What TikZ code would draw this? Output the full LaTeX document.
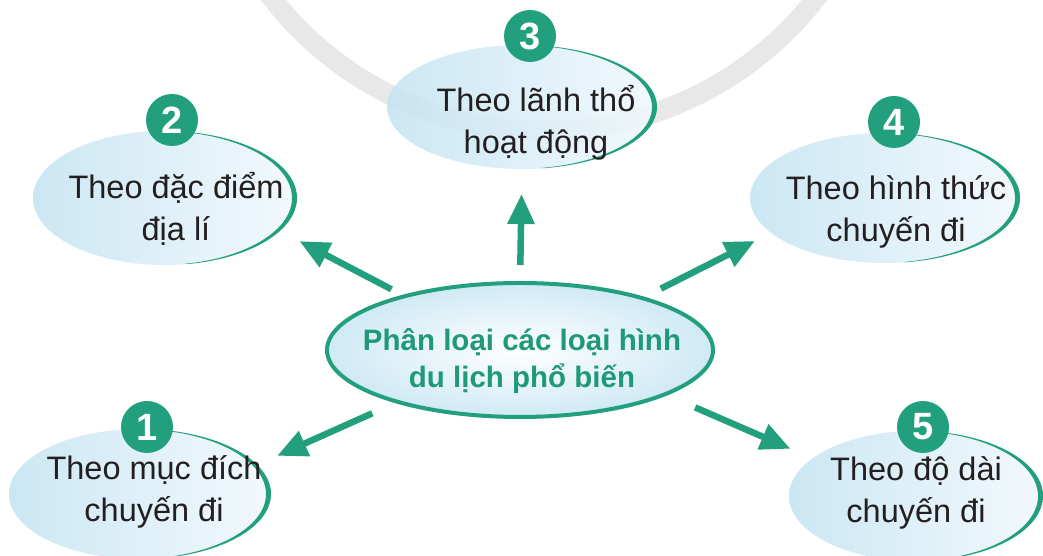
\documentclass[tikz,border=0pt]{standalone}
\usepackage{fontspec}
\setmainfont{Liberation Sans}
\usetikzlibrary{shapes.geometric,arrows.meta,calc}

\definecolor{leafgreen}{HTML}{22A07D}
\definecolor{huetext}{HTML}{1E9A78}
\definecolor{bubbleblue}{HTML}{C4E4F2}
\definecolor{bubblepale}{HTML}{F1F8FC}
\definecolor{inkgray}{HTML}{231F20}
\definecolor{ringgray}{HTML}{E8E8E8}

% green rim on the right half of a bubble
\newcommand{\bubblerim}[3]{%
  \fill[leafgreen] ($(#1)+(85:#2 and #3)$) arc[start angle=85,end angle=-80,x radius=#2,y radius=#3]
    -- ($(#1)+(-5pt,0)+(-80:#2 and #3)$) arc[start angle=-80,end angle=85,x radius=#2,y radius=#3] -- cycle;}

\begin{document}
\begin{tikzpicture}[x=1pt,y=1pt,
  bubble/.style 2 args={ellipse, minimum width=#1, minimum height=#2, inner sep=0pt, outer sep=0pt,
    left color=bubbleblue, right color=bubblepale, fill opacity=0.88},
  hub/.style={ellipse, minimum width=386pt, minimum height=134pt, inner sep=0pt, outer sep=0pt,
    draw=leafgreen, line width=4pt, shading=radial, inner color=white, outer color=bubbleblue!80},
  label/.style={align=center, text=inkgray, font=\fontsize{32.5}{42}\selectfont},
  hublabel/.style={align=center, text=huetext, font=\fontsize{29.5}{37}\selectfont\bfseries},
  badge/.style={circle, fill=leafgreen, text=white, minimum size=52pt, inner sep=0pt,
    font=\fontsize{38}{38}\selectfont\bfseries},
  arr/.style={leafgreen, line width=6.5pt, -{Triangle[length=30pt,width=26pt]}}]
\useasboundingbox (0,0) rectangle (1043,556);
\clip (0,0) rectangle (1043,556);

% watermark ring
\draw[ringgray, line width=20pt] (544,770) circle[radius=345pt];

\node[bubble={262pt}{130pt}] (e1) at (140,62) {};
\node[bubble={264pt}{134pt}] (e2) at (165,358) {};
\node[bubble={270pt}{124pt}] (e3) at (522,449) {};
\node[bubble={270pt}{130pt}] (e4) at (885,358) {};
\node[bubble={254pt}{130pt}] (e5) at (916,60) {};

\bubblerim{e1}{131pt}{65pt}
\bubblerim{e2}{132pt}{67pt}
\bubblerim{e3}{135pt}{62pt}
\bubblerim{e4}{135pt}{65pt}
\bubblerim{e5}{127pt}{65pt}

\node[hub] (cen) at (520,206) {};

\draw[arr, shorten <=28pt, shorten >=22pt] (cen.203) -- (e1.14);
\draw[arr, shorten <=15pt, shorten >=22pt] (cen.155) -- (e2.-16);
\draw[arr, shorten <=18pt, shorten >=25pt] (cen.north) -- (e3.south);
\draw[arr, shorten <=21pt, shorten >=18pt] (cen.23) -- (e4.197);
\draw[arr, shorten <=33pt, shorten >=24pt] (cen.-17) -- (e5.160);

\node[badge] (b1) at (147,129) {1};
\node[badge] (b2) at (172,436) {2};
\node[badge] (b3) at (530,520) {3};
\node[badge] (b4) at (894,434) {4};
\node[badge] (b5) at (923,129) {5};

\node[label] (t1) at (154,64) {Theo mục đích\\chuyến đi};
\node[label] (t2) at (176,347) {Theo đặc điểm\\địa lí};
\node[label] (t3) at (536,433) {Theo lãnh thổ\\hoạt động};
\node[label] (t4) at (896,344) {Theo hình thức\\chuyến đi};
\node[label] (t5) at (916,63) {Theo độ dài\\chuyến đi};
\node[hublabel] (tc) at (522,195) {Phân loại các loại hình\\du lịch phổ biến};

\end{tikzpicture}
\end{document}
